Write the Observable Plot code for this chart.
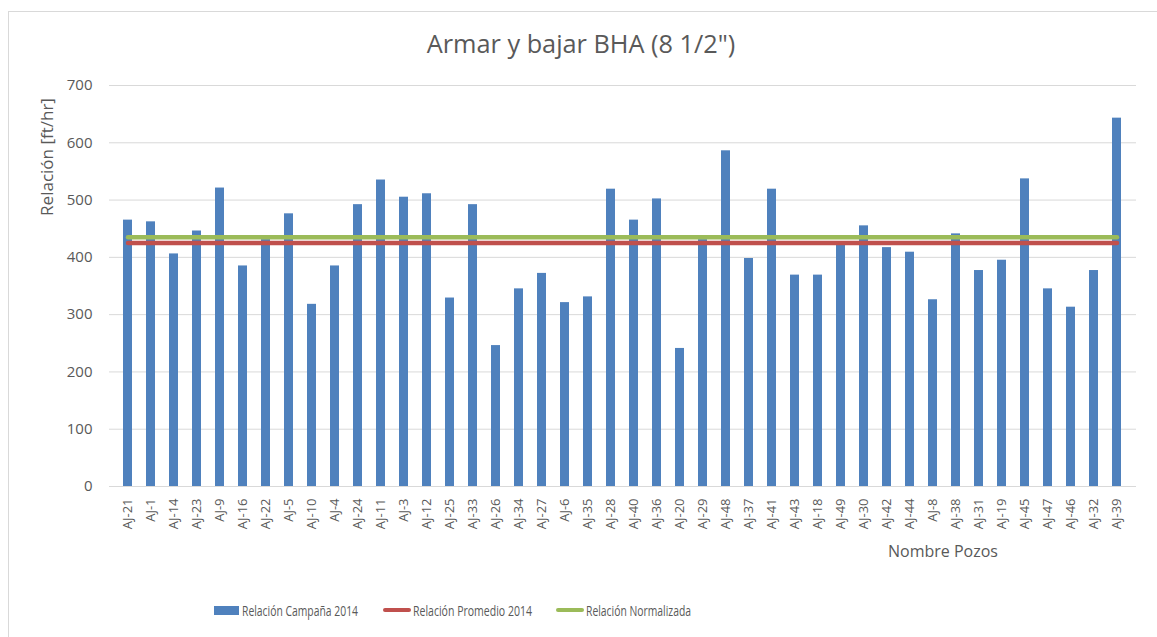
<!DOCTYPE html>
<html>
<head>
<meta charset="utf-8">
<script src="https://cdn.jsdelivr.net/npm/d3@7"></script>
<script src="https://cdn.jsdelivr.net/npm/@observablehq/plot@0.6"></script>
<style>
  html, body { margin: 0; padding: 0; background: #fff; }
  #wrap { position: relative; width: 1157px; height: 637px; overflow: hidden; font-family: "Open Sans", sans-serif; color: #595959; }
  #border { position: absolute; left: 8px; top: 11px; width: 1200px; height: 700px; border: 1px solid #D9D9D9; box-sizing: border-box; }
  #chart { position: absolute; left: 0; top: 0; }
  .txt { position: absolute; white-space: nowrap; }
  #title { left: 0; width: 1162px; top: 26px; text-align: center; font-size: 25.3px; }
  #ylabel { left: 46px; top: 157px; font-size: 17px; transform: translate(-50%, -50%) rotate(-90deg); }
  #xlabel { left: 943px; top: 551px; font-size: 16px; transform: translate(-50%, -50%); }
  #legend { position: absolute; top: 601px; left: 0; width: 1157px; height: 18px; font-family: "Open Sans", sans-serif; font-size: 14.5px; }
  .item { position: absolute; top: 0; display: flex; align-items: center; height: 18px; white-space: nowrap; }
  .sw-rect { width: 25px; height: 9px; margin-right: 3px; flex: none; }
  .sw-line { width: 28px; height: 4px; border-radius: 2px; margin-right: 2px; flex: none; }
  .lt { display: inline-block; transform-origin: left center; }
</style>
</head>
<body>
<div id="wrap">
  <div id="border"></div>
  <div id="chart"></div>
  <div class="txt" id="title">Armar y bajar BHA (8 1/2")</div>
  <div class="txt" id="ylabel">Relación [ft/hr]</div>
  <div class="txt" id="xlabel">Nombre Pozos</div>
  <div id="legend"></div>
</div>
<script>
const pozos = ["AJ-21","AJ-1","AJ-14","AJ-23","AJ-9","AJ-16","AJ-22","AJ-5","AJ-10","AJ-4","AJ-24","AJ-11","AJ-3","AJ-12","AJ-25","AJ-33","AJ-26","AJ-34","AJ-27","AJ-6","AJ-35","AJ-28","AJ-40","AJ-36","AJ-20","AJ-29","AJ-48","AJ-37","AJ-41","AJ-43","AJ-18","AJ-49","AJ-30","AJ-42","AJ-44","AJ-8","AJ-38","AJ-31","AJ-19","AJ-45","AJ-47","AJ-46","AJ-32","AJ-39"];
const relacionCampana = [465,462,406,446,521,385,431,476,318,385,492,535,505,511,329,492,246,345,372,321,331,519,465,502,241,431,586,398,519,369,369,424,455,417,409,326,441,377,395,537,345,313,377,643];
const relacionPromedio = 425;
const relacionNormalizada = 435;
const yTicks = [0,100,200,300,400,500,600,700];
const seriesNames = ["Relación Campaña 2014","Relación Promedio 2014","Relación Normalizada"];
const seriesColors = ["#4F81BD","#C0504D","#9BBB59"];

const bars = pozos.map((p, i) => ({pozo: p, valor: relacionCampana[i]}));
const promedio = pozos.map(p => ({pozo: p, valor: relacionPromedio}));
const normal = pozos.map(p => ({pozo: p, valor: relacionNormalizada}));

const chart = Plot.plot({
  width: 1157,
  height: 637,
  marginLeft: 109,
  marginRight: 21,
  marginTop: 85,
  marginBottom: 151,
  style: {fontFamily: "'Open Sans', sans-serif", color: "#595959", background: "transparent"},
  x: {domain: pozos, paddingInner: 0.6, paddingOuter: 0.3, label: null},
  y: {domain: [0, 700], ticks: yTicks, label: null},
  marks: [
    Plot.ruleY(yTicks, {stroke: "#D9D9D9", strokeWidth: 1}),
    Plot.barY(bars, {x: "pozo", y: "valor", fill: seriesColors[0]}),
    Plot.lineY(promedio, {x: "pozo", y: "valor", stroke: seriesColors[1], strokeWidth: 4.5, strokeLinecap: "round"}),
    Plot.lineY(normal, {x: "pozo", y: "valor", stroke: seriesColors[2], strokeWidth: 4.5, strokeLinecap: "round"}),
    Plot.axisY({ticks: yTicks, tickSize: 0, tickPadding: 17, fontSize: 15, label: null}),
    Plot.axisX({tickSize: 0, tickPadding: 12, tickRotate: -90, fontSize: 13, label: null})
  ]
});
document.getElementById("chart").appendChild(chart);

const legend = document.getElementById("legend");
const legendX = [214, 383, 556];
const legendTextW = [116, 119, 105];
seriesNames.forEach((name, i) => {
  const item = document.createElement("div");
  item.className = "item";
  item.style.left = legendX[i] + "px";
  const sw = document.createElement("span");
  sw.className = i === 0 ? "sw-rect" : "sw-line";
  sw.style.background = seriesColors[i];
  const t = document.createElement("span");
  t.className = "lt";
  t.textContent = name;
  item.appendChild(sw);
  item.appendChild(t);
  legend.appendChild(item);
  const w = t.getBoundingClientRect().width;
  if (w > 0) t.style.transform = `scaleX(${legendTextW[i] / w})`;
});
</script>
</body>
</html>
